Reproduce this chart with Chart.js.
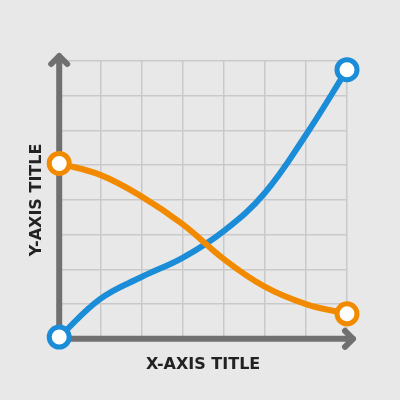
<!DOCTYPE html>
<html>
<head>
<meta charset="utf-8">
<script src="https://cdn.jsdelivr.net/npm/chart.js@4"></script>
<style>
  html, body { margin: 0; padding: 0; background: #e8e8e8; }
  #wrap { width: 400px; height: 400px; }
</style>
</head>
<body>
<div id="wrap"><canvas id="myChart"></canvas></div>
<script>
'use strict';
// values, one per vertical grid line
let xValues = [0, 1, 2, 3, 4, 5, 6, 7]
let orangeValues = [5.05, 4.72, 4.1, 3.3, 2.3, 1.5, 1.0, 0.72]
let blueValues = [0.05, 1.15, 1.78, 2.33, 3.1, 4.2, 5.87, 7.75]
let xTitle = 'X-AXIS TITLE'
let yTitle = 'Y-AXIS TITLE'

const axisColor = '#707070'
const orange = '#f28a00'
const blue = '#1a8cd8'

function toPoints(values){
  let pts = []
  for(let i = 0; i < values.length; i++){
    pts.push({x: xValues[i], y: values[i]})
  }
  return pts
}

function endRadius(values){
  return values.map((v, i) => (i === 0 || i === values.length - 1) ? 10 : 0)
}

// axes with open arrow heads, drawn under the lines
const arrowAxes = {
  id: 'arrowAxes',
  beforeDatasetsDraw(chart){
    const c = chart.ctx
    const a = chart.chartArea
    c.save()
    c.strokeStyle = axisColor
    c.lineWidth = 6
    c.lineCap = 'round'
    c.lineJoin = 'round'
    c.beginPath()
    c.moveTo(a.left, a.bottom)
    c.lineTo(a.left, a.top - 5)
    c.moveTo(a.left - 8, a.top + 3)
    c.lineTo(a.left, a.top - 5)
    c.lineTo(a.left + 8, a.top + 3)
    c.moveTo(a.left, a.bottom)
    c.lineTo(a.right + 6, a.bottom)
    c.moveTo(a.right - 2, a.bottom - 8)
    c.lineTo(a.right + 6, a.bottom)
    c.lineTo(a.right - 2, a.bottom + 8)
    c.stroke()
    c.restore()
  }
}

const ctx = document.getElementById('myChart');
const myChart = new Chart(ctx, {
  type: 'line',
  data: {
    datasets: [{
      data: toPoints(orangeValues),
      borderColor: orange,
      borderWidth: 6,
      tension: 0.4,
      pointRadius: endRadius(orangeValues),
      pointBackgroundColor: '#ffffff',
      pointBorderColor: orange,
      pointBorderWidth: 5,
      clip: false
    },
    {
      data: toPoints(blueValues),
      borderColor: blue,
      borderWidth: 6,
      tension: 0.4,
      pointRadius: endRadius(blueValues),
      pointBackgroundColor: '#ffffff',
      pointBorderColor: blue,
      pointBorderWidth: 5,
      clip: false
    }]
  },
  options: {
    responsive: true,
    maintainAspectRatio: false,
    animation: false,
    layout: { padding: { top: 61, right: 53, bottom: 26, left: 17 } },
    plugins: { legend: { display: false }, tooltip: { enabled: false } },
    scales: {
      x: {
        type: 'linear',
        min: 0,
        max: 7,
        ticks: { display: false, stepSize: 1 },
        grid: { color: '#c9c9c9', lineWidth: 1.5, drawTicks: false },
        border: { display: false },
        title: {
          display: true,
          text: xTitle,
          color: '#222222',
          font: { family: 'DejaVu Sans', size: 16, weight: 'bold', lineHeight: 1.2 },
          padding: { top: 16, bottom: 0 }
        }
      },
      y: {
        min: 0,
        max: 8,
        ticks: { display: false, stepSize: 1 },
        grid: { color: '#c9c9c9', lineWidth: 1.5, drawTicks: false },
        border: { display: false },
        title: {
          display: true,
          text: yTitle,
          color: '#222222',
          font: { family: 'DejaVu Sans', size: 16, weight: 'bold', lineHeight: 1.2 },
          padding: { top: 10, bottom: 13 }
        }
      }
    }
  },
  plugins: [arrowAxes]
});
</script>
</body>
</html>
